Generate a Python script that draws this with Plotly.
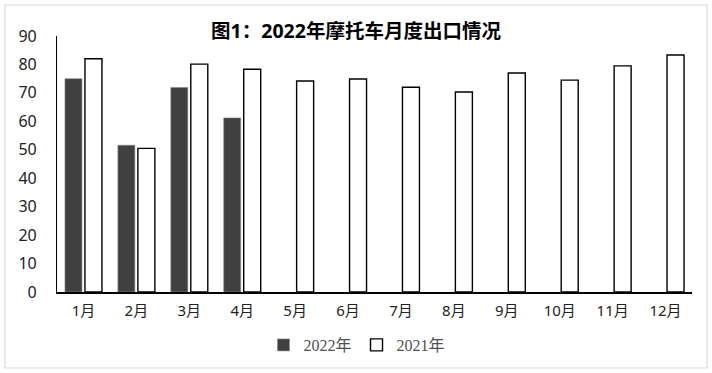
import plotly.graph_objects as go

months = ["1月", "2月", "3月", "4月", "5月", "6月", "7月", "8月", "9月", "10月", "11月", "12月"]
values_2022 = [75.0, 51.6, 71.9, 61.2, None, None, None, None, None, None, None, None]
values_2021 = [82.0, 50.5, 80.1, 78.3, 74.2, 74.9, 72.0, 70.3, 77.0, 74.5, 79.5, 83.3]
y_ticks = [0, 10, 20, 30, 40, 50, 60, 70, 80, 90]

W, H = 712, 373
ML, MR, MT, MB = 57, 20, 36, 81
PW, PH = W - ML - MR, H - MT - MB

def px_x(p):
    return (p - ML) / PW

def px_y(p):
    return (H - MB - p) / PH

sans = "Noto Sans, Noto Sans CJK SC, sans-serif"
serif = "Liberation Serif, Noto Sans CJK SC, serif"

fig = go.Figure()
fig.add_trace(go.Bar(
    x=months, y=values_2022, name="2022年",
    marker=dict(color="#404040", line=dict(color="#8a8a8a", width=0.6)),
))
fig.add_trace(go.Bar(
    x=months, y=values_2021, name="2021年",
    marker=dict(color="#ffffff", line=dict(color="#000000", width=1.4)),
))

fig.update_layout(
    width=W, height=H,
    margin=dict(l=ML, r=MR, t=MT, b=MB, autoexpand=False),
    paper_bgcolor="white", plot_bgcolor="white",
    barmode="group", bargap=0.244, bargroupgap=0.15,
    title=dict(text="<b>图1：2022年摩托车月度出口情况</b>", x=0.5, xref="container",
               y=1 - 31 / H, yref="container", xanchor="center", yanchor="middle",
               font=dict(family=sans, size=19.5, color="#000000")),
    showlegend=True,
    legend=dict(orientation="h", x=(357 - ML) / PW, xanchor="center",
                y=px_y(345), yanchor="middle",
                font=dict(family=serif, size=16, color="#505050"),
                itemwidth=30, traceorder="normal"),
    xaxis=dict(showline=True, linecolor="#000000", linewidth=1.5, ticks="",
               showgrid=False, tickfont=dict(family=sans, size=15, color="#222222"),
               ticklabelstandoff=4),
    yaxis=dict(range=[0, 90], tickvals=y_ticks, showline=True, linecolor="#000000",
               linewidth=1.2, ticks="", showgrid=False, zeroline=False,
               tickfont=dict(family=sans, size=16, color="#222222"),
               ticklabelstandoff=16),
    shapes=[dict(type="rect", xref="paper", yref="paper",
                 x0=px_x(5), x1=px_x(707), y0=px_y(368), y1=px_y(5),
                 line=dict(color="#d9d9d9", width=1.2), fillcolor="rgba(0,0,0,0)", layer="below")],
)

fig.write_html("out.html", config={"displayModeBar": False},
               post_script="document.body.style.margin='0';document.body.style.overflow='hidden';")
